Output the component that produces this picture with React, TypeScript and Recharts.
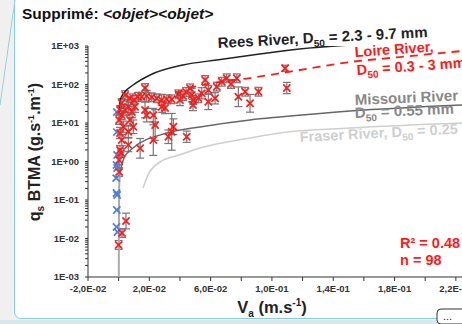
import React from 'react';
import { ScatterChart, Scatter, XAxis, YAxis, ErrorBar } from 'recharts';

const FONT = '"Liberation Sans", Arial, sans-serif';

// axis ticks
const xTicks = [-0.02, 0, 0.02, 0.04, 0.06, 0.08, 0.1, 0.12, 0.14, 0.16, 0.18, 0.2, 0.22];
const xTickLabels = ['-2,0E-02', '', '2,0E-02', '', '6,0E-02', '', '1,0E-01', '', '1,4E-01', '', '1,8E-01', '', '2,2E-01'];
const yMajorTicks = [0.001, 0.01, 0.1, 1, 10, 100, 1000];
const yTickLabels = ['1E-03', '1E-02', '1E-01', '1E+00', '1E+01', '1E+02', '1E+03'];

// fitted curves
const reesV = [0.0003, 0.001, 0.004, 0.0094, 0.0205, 0.042, 0.064, 0.092, 0.118, 0.171, 0.224];
const reesQ = [16, 40, 64, 97, 177, 321, 433, 620, 836, 1196, 1714];

const loireV = [0.0368, 0.0466, 0.0616, 0.0857, 0.1184, 0.151, 0.1836, 0.224];
const loireQ = [60, 81, 109, 147, 238, 384, 517, 741];

// Missouri: steep lower branch drawn lighter
const missouriLowV = [0.0001, 0.00015, 0.0003, 0.0009];
const missouriLowQ = [0.001, 0.0166, 0.18, 0.53];
const missouriV = [0.0009, 0.0035, 0.0094, 0.0316, 0.053, 0.0857, 0.105, 0.151, 0.224];
const missouriQ = [0.53, 1.23, 2.24, 5.5, 7.9, 12, 14.3, 20.5, 29.4];

const fraserV = [0.0159, 0.0192, 0.027, 0.04, 0.053, 0.0857, 0.105, 0.151, 0.224];
const fraserQ = [0.205, 0.45, 0.97, 1.5, 2.24, 4.07, 5.5, 7.4, 10];

// measurements
const blueV = [-0.0012, -0.0012, -0.001, -0.0014, -0.001, -0.0016, -0.0014, -0.001, -0.0012, -0.0014, -0.0008];
const blueQ = [19.3, 5.8, 1.48, 0.81, 0.68, 0.37, 0.152, 0.135, 0.055, 0.02, 0.0148];

const redV = [0.0, 0.0022, 0.0048, 0.0003, 0.0009, 0.0003, 0.0016, 0.0009, 0.002, 0.0031,
  0.0063, 0.0096, 0.0074, 0.002, 0.0042, 0.0063, 0.002, 0.0042, 0.0074, 0.0107,
  0.0063, 0.0125, 0.0151, 0.0172, 0.0183, 0.0216, 0.0249, 0.0281, 0.0314, 0.0346,
  0.039, 0.04, 0.0466, 0.0477, 0.0487, 0.0542, 0.0564, 0.0172, 0.0183, 0.0226,
  0.0238, 0.0281, 0.0303, 0.0357, 0.0346, 0.0324, 0.0444, 0.0226, 0.014, 0.0585,
  0.0585, 0.0629, 0.064, 0.0673, 0.0705, 0.0771, 0.0781, 0.0825, 0.0857, 0.0912,
  0.1086, 0.1097, 0.0485, 0.0003, 0.0009, 0.0087, 0.01, 0.042, 0.044, 0.052, 0.0733];
const redQ = [0.0068, 0.0139, 0.0285, 0.53, 2.0, 1.09, 1.66, 5.5, 3.6, 8.0,
  5.9, 8.0, 12, 16, 21.8, 26.5, 33, 53, 43.8, 26.5,
  2.7, 48, 48, 81, 50, 46.5, 43.8, 39.6, 41.3, 41.3,
  55.6, 39.6, 79.6, 53, 39.6, 59, 131, 21.8, 16, 16,
  8.9, 26.5, 24.5, 8.0, 5.9, 4.4, 4.4, 3.6, 2.2, 72,
  35.7, 43.8, 87.7, 118, 145, 145, 48, 65, 32.5, 65,
  264, 81, 29.3, 12, 21.8, 19.3, 39.6, 50, 64, 43.8, 103];
// error bar size as a multiplicative factor
const redErr = [1.3, 1.3, 1.6, 1.3, 1.3, 1.3, 1.3, 1.4, 1.4, 1.4,
  1.4, 1.5, 1.4, 1.3, 1.4, 1.4, 1.3, 1.3, 1.3, 1.4,
  1.5, 1.3, 1.3, 1.3, 1.4, 1.3, 1.3, 1.4, 1.3, 1.3,
  1.3, 1.4, 1.3, 1.5, 1.3, 1.4, 1.3, 1.6, 1.5, 1.5,
  2.5, 1.4, 1.4, 1.6, 3.0, 1.5, 1.4, 2.5, 1.8, 1.3,
  1.6, 1.4, 1.3, 1.3, 1.3, 1.3, 1.8, 1.3, 1.7, 1.3,
  1.2, 1.4, 1.4, 1.3, 1.3, 1.4, 1.3, 1.3, 1.3, 1.3, 1.3];

const toPts = (vs: number[], qs: number[]) => vs.map((v, i) => ({ v, q: qs[i] }));
const reesData = toPts(reesV, reesQ);
const loireData = toPts(loireV, loireQ);
const missouriLowData = toPts(missouriLowV, missouriLowQ);
const missouriData = toPts(missouriV, missouriQ);
const fraserData = toPts(fraserV, fraserQ);
const blueData = toPts(blueV, blueQ);
const redData = redV.map((v, i) => {
  const q = redQ[i];
  const f = redErr[i];
  return { v, q, err: [q - q / f, q * f - q] };
});

const yTicks: number[] = [];
yMajorTicks.forEach((t, i) => {
  yTicks.push(t);
  if (i < yMajorTicks.length - 1) for (let k = 2; k <= 9; k++) yTicks.push(t * k);
});

const fmtX = (v: number) => {
  const i = xTicks.findIndex((t) => Math.abs(t - v) < 1e-9);
  return i >= 0 ? xTickLabels[i] : '';
};
const fmtY = (v: number) => {
  const i = yMajorTicks.findIndex((t) => Math.abs(t - v) / t < 1e-6);
  return i >= 0 ? yTickLabels[i] : '';
};

const cross = (color: string) => (props: any) => {
  const { cx, cy } = props;
  const s = 3.6;
  return (
    <g stroke={color} strokeWidth={1.7}>
      <line x1={cx - s} y1={cy - s} x2={cx + s} y2={cy + s} />
      <line x1={cx - s} y1={cy + s} x2={cx + s} y2={cy - s} />
    </g>
  );
};
const noShape = () => <g />;

const tickStyle = { fontSize: 9.5, fontWeight: 700, fill: '#333', fontFamily: FONT };

export default function App() {
  return (
    <div style={{ position: 'absolute', left: 0, top: 0, width: 462, height: 324, overflow: 'hidden', background: '#f0f0f0' }}>
      <div style={{ position: 'absolute', left: 0, top: 320, width: 462, height: 4, background: '#d9e6ec' }} />
      <div style={{ position: 'absolute', left: 14, top: -8, width: 470, height: 327, background: '#fff', border: '1px solid #88cfdc', borderRadius: 7, boxSizing: 'border-box' }} />
      <div style={{ position: 'absolute', left: 0, top: 0 }}>
        <ScatterChart width={462} height={324} margin={{ top: 46, right: 0, bottom: 17, left: 28 }}>
          <XAxis
            dataKey="v"
            type="number"
            domain={[-0.02, 0.224]}
            ticks={xTicks}
            interval={0}
            allowDataOverflow
            tickFormatter={fmtX}
            tick={tickStyle}
            tickSize={4}
            tickMargin={4}
            height={30}
            axisLine={{ stroke: '#333' }}
            tickLine={{ stroke: '#333' }}
          />
          <YAxis
            dataKey="q"
            type="number"
            scale="log"
            domain={[0.001, 1000]}
            ticks={yTicks}
            interval={0}
            allowDataOverflow
            tickFormatter={fmtY}
            tick={tickStyle}
            tickSize={3}
            tickMargin={6}
            width={60}
            axisLine={{ stroke: '#333' }}
            tickLine={{ stroke: '#333' }}
          />
          <Scatter data={fraserData} line={{ stroke: '#cfcfcf', strokeWidth: 1.6 }} lineJointType="monotoneX" shape={noShape} isAnimationActive={false} />
          <Scatter data={missouriLowData} line={{ stroke: '#aaa', strokeWidth: 2 }} lineJointType="monotoneX" shape={noShape} isAnimationActive={false} />
          <Scatter data={missouriData} line={{ stroke: '#666', strokeWidth: 1.5 }} lineJointType="monotoneX" shape={noShape} isAnimationActive={false} />
          <Scatter data={reesData} line={{ stroke: '#222', strokeWidth: 1.5 }} lineJointType="monotoneX" shape={noShape} isAnimationActive={false} />
          <Scatter data={loireData} line={{ stroke: '#ff1a1a', strokeWidth: 1.8, strokeDasharray: '8 6' }} lineJointType="monotoneX" shape={noShape} isAnimationActive={false} />
          <Scatter data={blueData} shape={cross('#4f7fd8')} isAnimationActive={false} />
          <Scatter data={redData} shape={cross('#ff1a1a')} isAnimationActive={false}>
            <ErrorBar dataKey="err" direction="y" width={4} stroke="#777" strokeWidth={1.2} />
          </Scatter>
        </ScatterChart>
      </div>
      <svg width={462} height={324} style={{ position: 'absolute', left: 0, top: 0, pointerEvents: 'none' }} fontFamily={FONT}>
        <line x1={15} y1={0} x2={0} y2={105} stroke="#8fd3e0" strokeWidth={1} />
        <text x={22} y={19} fontSize={15.5} fontWeight={700} fill="#111">
          Supprimé: <tspan fontStyle="italic" fontWeight={600}>&lt;objet&gt;&lt;objet&gt;</tspan>
        </text>
        <text x={218} y={48} fontSize={15} fontWeight={700} fill="#222" transform="rotate(-3 218 48)">
          Rees River, D<tspan fontSize={10} dy={4}>50</tspan><tspan dy={-4}> = 2.3 - 9.7 mm</tspan>
        </text>
        <text x={355} y={57} fontSize={14.5} fontWeight={700} fill="#ff1a1a" transform="rotate(-4 355 57)">
          Loire River,
        </text>
        <text x={357} y={75} fontSize={14.5} fontWeight={700} fill="#ff1a1a" transform="rotate(-4 357 75)">
          D<tspan fontSize={10} dy={4}>50</tspan><tspan dy={-4}> = 0.3 - 3 mm</tspan>
        </text>
        <text x={355} y={105} fontSize={15} fontWeight={700} fill="#888" transform="rotate(-2.5 355 105)">
          Missouri River
        </text>
        <text x={355} y={118} fontSize={15} fontWeight={700} fill="#888" transform="rotate(-2.5 355 118)">
          D<tspan fontSize={10} dy={4}>50</tspan><tspan dy={-4}> = 0.55 mm</tspan>
        </text>
        <text x={300} y={142} fontSize={14.5} fontWeight={700} fill="#cfcfcf" transform="rotate(-3 300 142)">
          Fraser River, D<tspan fontSize={10} dy={4}>50</tspan><tspan dy={-4}> = 0.25 mm</tspan>
        </text>
        <text x={400} y={248} fontSize={14.5} fontWeight={700} fill="#ff1a1a">R² = 0.48</text>
        <text x={400} y={265} fontSize={14.5} fontWeight={700} fill="#ff1a1a">n = 98</text>
        <text x={40} y={152} fontSize={16} fontWeight={700} fill="#222" textAnchor="middle" transform="rotate(-90 40 152)">
          q<tspan fontSize={10} dy={4}>s</tspan><tspan dy={-4}> BTMA (g.s</tspan><tspan fontSize={9} dy={-6}>-1</tspan><tspan dy={6}>.m</tspan><tspan fontSize={9} dy={-6}>-1</tspan><tspan dy={6}>)</tspan>
        </text>
        <text x={272} y={313} fontSize={16.5} fontWeight={700} fill="#222" textAnchor="middle">
          V<tspan fontSize={10} dy={4}>a</tspan><tspan dy={-4}> (m.s</tspan><tspan fontSize={10} dy={-7}>-1</tspan><tspan dy={7}>)</tspan>
        </text>
        <rect x={437} y={309} width={32} height={15} rx={4} fill="#fff" stroke="#333" strokeWidth={1} />
        <text x={443} y={320} fontSize={11} fill="#222">...</text>
      </svg>
    </div>
  );
}
